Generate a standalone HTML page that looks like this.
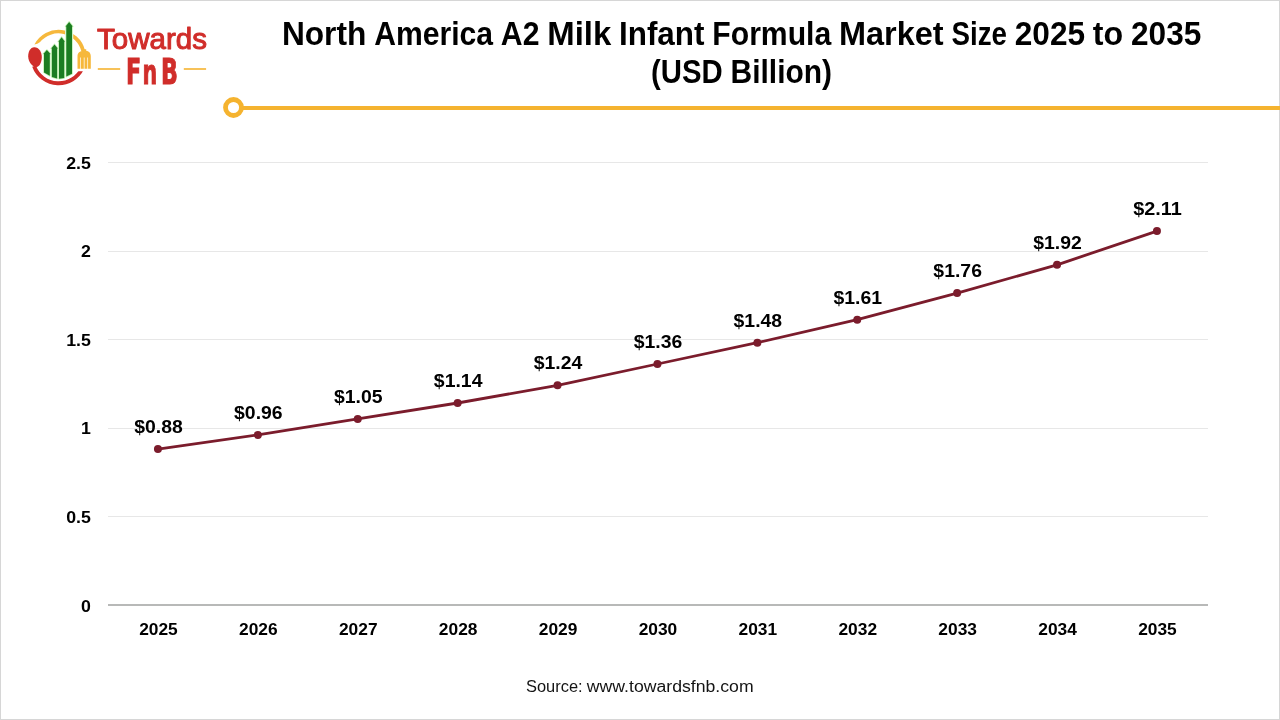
<!DOCTYPE html>
<html lang="en"><head><meta charset="utf-8"><title>North America A2 Milk Infant Formula Market Size 2025 to 2035</title>
<style>html,body{margin:0;padding:0;background:#fff;}body{width:1280px;height:720px;overflow:hidden;font-family:"Liberation Sans",sans-serif;}svg{display:block;}svg text{font-family:"Liberation Sans",sans-serif;}</style></head><body>
<svg width="1280" height="720" viewBox="0 0 1280 720">
<rect x="0" y="0" width="1280" height="720" fill="#ffffff"/>
<rect x="0.5" y="0.5" width="1279" height="719" fill="none" stroke="#d6d6d6" stroke-width="1"/>
<line x1="108" y1="516.5" x2="1208" y2="516.5" stroke="#e7e7e7" stroke-width="1"/>
<line x1="108" y1="428.5" x2="1208" y2="428.5" stroke="#e7e7e7" stroke-width="1"/>
<line x1="108" y1="339.5" x2="1208" y2="339.5" stroke="#e7e7e7" stroke-width="1"/>
<line x1="108" y1="251.5" x2="1208" y2="251.5" stroke="#e7e7e7" stroke-width="1"/>
<line x1="108" y1="162.5" x2="1208" y2="162.5" stroke="#e7e7e7" stroke-width="1"/>
<line x1="108" y1="605.0" x2="1208" y2="605.0" stroke="#b8b9b8" stroke-width="2"/>
<text x="90.9" y="611.5" text-anchor="end" font-size="17" font-weight="700" fill="#000" textLength="9.88" lengthAdjust="spacingAndGlyphs">0</text>
<text x="90.9" y="522.9" text-anchor="end" font-size="17" font-weight="700" fill="#000" textLength="24.69" lengthAdjust="spacingAndGlyphs">0.5</text>
<text x="90.9" y="434.3" text-anchor="end" font-size="17" font-weight="700" fill="#000" textLength="9.88" lengthAdjust="spacingAndGlyphs">1</text>
<text x="90.9" y="345.7" text-anchor="end" font-size="17" font-weight="700" fill="#000" textLength="24.69" lengthAdjust="spacingAndGlyphs">1.5</text>
<text x="90.9" y="257.1" text-anchor="end" font-size="17" font-weight="700" fill="#000" textLength="9.88" lengthAdjust="spacingAndGlyphs">2</text>
<text x="90.9" y="168.5" text-anchor="end" font-size="17" font-weight="700" fill="#000" textLength="24.69" lengthAdjust="spacingAndGlyphs">2.5</text>
<text x="158.45" y="635" text-anchor="middle" font-size="17" font-weight="700" fill="#000" textLength="38.6" lengthAdjust="spacingAndGlyphs">2025</text>
<text x="258.35" y="635" text-anchor="middle" font-size="17" font-weight="700" fill="#000" textLength="38.6" lengthAdjust="spacingAndGlyphs">2026</text>
<text x="358.25" y="635" text-anchor="middle" font-size="17" font-weight="700" fill="#000" textLength="38.6" lengthAdjust="spacingAndGlyphs">2027</text>
<text x="458.15" y="635" text-anchor="middle" font-size="17" font-weight="700" fill="#000" textLength="38.6" lengthAdjust="spacingAndGlyphs">2028</text>
<text x="558.05" y="635" text-anchor="middle" font-size="17" font-weight="700" fill="#000" textLength="38.6" lengthAdjust="spacingAndGlyphs">2029</text>
<text x="657.95" y="635" text-anchor="middle" font-size="17" font-weight="700" fill="#000" textLength="38.6" lengthAdjust="spacingAndGlyphs">2030</text>
<text x="757.85" y="635" text-anchor="middle" font-size="17" font-weight="700" fill="#000" textLength="38.6" lengthAdjust="spacingAndGlyphs">2031</text>
<text x="857.75" y="635" text-anchor="middle" font-size="17" font-weight="700" fill="#000" textLength="38.6" lengthAdjust="spacingAndGlyphs">2032</text>
<text x="957.65" y="635" text-anchor="middle" font-size="17" font-weight="700" fill="#000" textLength="38.6" lengthAdjust="spacingAndGlyphs">2033</text>
<text x="1057.55" y="635" text-anchor="middle" font-size="17" font-weight="700" fill="#000" textLength="38.6" lengthAdjust="spacingAndGlyphs">2034</text>
<text x="1157.45" y="635" text-anchor="middle" font-size="17" font-weight="700" fill="#000" textLength="38.6" lengthAdjust="spacingAndGlyphs">2035</text>
<polyline points="157.95,449.1 257.85,434.9 357.75,418.9 457.65,403.0 557.55,385.3 657.45,364.0 757.35,342.7 857.25,319.7 957.15,293.1 1057.05,264.8 1156.95,231.1" fill="none" stroke="#7b1c2c" stroke-width="2.8" stroke-linejoin="round" stroke-linecap="round"/>
<circle cx="157.95" cy="449.1" r="4" fill="#7b1c2c"/>
<circle cx="257.85" cy="434.9" r="4" fill="#7b1c2c"/>
<circle cx="357.75" cy="418.9" r="4" fill="#7b1c2c"/>
<circle cx="457.65" cy="403.0" r="4" fill="#7b1c2c"/>
<circle cx="557.55" cy="385.3" r="4" fill="#7b1c2c"/>
<circle cx="657.45" cy="364.0" r="4" fill="#7b1c2c"/>
<circle cx="757.35" cy="342.7" r="4" fill="#7b1c2c"/>
<circle cx="857.25" cy="319.7" r="4" fill="#7b1c2c"/>
<circle cx="957.15" cy="293.1" r="4" fill="#7b1c2c"/>
<circle cx="1057.05" cy="264.8" r="4" fill="#7b1c2c"/>
<circle cx="1156.95" cy="231.1" r="4" fill="#7b1c2c"/>
<text x="158.45" y="433.1" text-anchor="middle" font-size="17.5" font-weight="700" fill="#000" textLength="48.6" lengthAdjust="spacingAndGlyphs">$0.88</text>
<text x="258.35" y="418.9" text-anchor="middle" font-size="17.5" font-weight="700" fill="#000" textLength="48.6" lengthAdjust="spacingAndGlyphs">$0.96</text>
<text x="358.25" y="402.9" text-anchor="middle" font-size="17.5" font-weight="700" fill="#000" textLength="48.6" lengthAdjust="spacingAndGlyphs">$1.05</text>
<text x="458.15" y="387.0" text-anchor="middle" font-size="17.5" font-weight="700" fill="#000" textLength="48.6" lengthAdjust="spacingAndGlyphs">$1.14</text>
<text x="558.05" y="369.3" text-anchor="middle" font-size="17.5" font-weight="700" fill="#000" textLength="48.6" lengthAdjust="spacingAndGlyphs">$1.24</text>
<text x="657.95" y="348.0" text-anchor="middle" font-size="17.5" font-weight="700" fill="#000" textLength="48.6" lengthAdjust="spacingAndGlyphs">$1.36</text>
<text x="757.85" y="326.7" text-anchor="middle" font-size="17.5" font-weight="700" fill="#000" textLength="48.6" lengthAdjust="spacingAndGlyphs">$1.48</text>
<text x="857.75" y="303.7" text-anchor="middle" font-size="17.5" font-weight="700" fill="#000" textLength="48.6" lengthAdjust="spacingAndGlyphs">$1.61</text>
<text x="957.65" y="277.1" text-anchor="middle" font-size="17.5" font-weight="700" fill="#000" textLength="48.6" lengthAdjust="spacingAndGlyphs">$1.76</text>
<text x="1057.55" y="248.8" text-anchor="middle" font-size="17.5" font-weight="700" fill="#000" textLength="48.6" lengthAdjust="spacingAndGlyphs">$1.92</text>
<text x="1157.45" y="215.1" text-anchor="middle" font-size="17.5" font-weight="700" fill="#000" textLength="48.6" lengthAdjust="spacingAndGlyphs">$2.11</text>
<text y="45" font-size="32.4" font-weight="700" fill="#000" ><tspan x="281.92" textLength="84.39" lengthAdjust="spacingAndGlyphs">North</tspan> <tspan x="374.14" textLength="118.89" lengthAdjust="spacingAndGlyphs">America</tspan> <tspan x="500.84" textLength="38.59" lengthAdjust="spacingAndGlyphs">A2</tspan> <tspan x="547.25" textLength="63.97" lengthAdjust="spacingAndGlyphs">Milk</tspan> <tspan x="619.03" textLength="85.47" lengthAdjust="spacingAndGlyphs">Infant</tspan> <tspan x="712.33" textLength="118.86" lengthAdjust="spacingAndGlyphs">Formula</tspan> <tspan x="839.00" textLength="104.64" lengthAdjust="spacingAndGlyphs">Market</tspan> <tspan x="951.47" textLength="55.48" lengthAdjust="spacingAndGlyphs">Size</tspan> <tspan x="1014.76" textLength="70.28" lengthAdjust="spacingAndGlyphs">2025</tspan> <tspan x="1092.86" textLength="30.33" lengthAdjust="spacingAndGlyphs">to</tspan> <tspan x="1131.01" textLength="70.27" lengthAdjust="spacingAndGlyphs">2035</tspan></text>
<text y="82.6" font-size="32.4" font-weight="700" fill="#000" ><tspan x="651.11" textLength="71.66" lengthAdjust="spacingAndGlyphs">(USD</tspan> <tspan x="730.58" textLength="101.52" lengthAdjust="spacingAndGlyphs">Billion)</tspan></text>
<line x1="242" y1="108" x2="1280" y2="108" stroke="#f5b32f" stroke-width="4"/>
<circle cx="233.5" cy="107.5" r="8" fill="#fff" stroke="#f5b32f" stroke-width="4.8"/>
<text y="691.8" font-size="17.3" font-weight="400" fill="#141414" ><tspan x="526.00" textLength="56.61" lengthAdjust="spacingAndGlyphs">Source:</tspan> <tspan x="586.81" textLength="166.84" lengthAdjust="spacingAndGlyphs">www.towardsfnb.com</tspan></text>
<g id="logo">
<path d="M34.36,44.55 A27.2,27.2 0 0 1 85.05,50.55 L81.45,51.41 A23.8,23.8 0 0 0 40.10,41.92 Q37.43,44.18 34.36,44.55 Z" fill="#f6b83c"/>
<clipPath id="rc"><path d="M0,0 H72 V71.3 H100 V100 H0 Z"/></clipPath>
<path d="M34.07,66.13 A26.1,26.1 0 0 0 82.25,68.23" fill="none" stroke="#d02d2a" stroke-width="4" clip-path="url(#rc)"/>
<path d="M34.2,47.2 C38.6,47 41.9,51.6 41.8,57.2 C41.7,62.6 39.4,66.6 36.6,67 C33.2,67.4 28.4,63.2 28.2,56.6 C28.1,51.4 30.4,47.4 34.2,47.2 Z" fill="#d02d2a"/>
<path d="M44.0,72.4 L44.0,54.0 L43.3,54.0 L46.9,50.0 L50.5,54.0 L49.8,54.0 L49.8,75.7 Z" fill="#1c7d22" stroke="#c4f2b4" stroke-width="1.6" stroke-linejoin="round" paint-order="stroke"/>
<path d="M51.9,77.1 L51.9,48.4 L51.199999999999996,48.4 L54.5,44.4 L57.800000000000004,48.4 L57.1,48.4 L57.1,78.5 Z" fill="#1c7d22" stroke="#c4f2b4" stroke-width="1.6" stroke-linejoin="round" paint-order="stroke"/>
<path d="M59.0,78.75 L59.0,41.8 L58.3,41.8 L61.6,37.2 L64.9,41.8 L64.2,41.8 L64.2,78.0 Z" fill="#1c7d22" stroke="#c4f2b4" stroke-width="1.6" stroke-linejoin="round" paint-order="stroke"/>
<path d="M66.3,76.6 L66.3,26.6 L65.6,26.6 L69.15,21.9 L72.7,26.6 L72.0,26.6 L72.0,73.8 Z" fill="#fff" stroke="#fff" stroke-width="2.4" stroke-linejoin="round"/>
<path d="M66.3,76.6 L66.3,26.6 L65.6,26.6 L69.15,21.9 L72.7,26.6 L72.0,26.6 L72.0,73.8 Z" fill="#1c7d22" stroke="#c4f2b4" stroke-width="1.6" stroke-linejoin="round" paint-order="stroke"/>
<path d="M77.5,68.7 L77.5,56.2 C77.5,52.6 80,51.3 83.2,50.7 L83.4,49.2 L86.2,49.2 L86.2,50.7 C88.6,51.3 90.8,52.6 90.8,56.2 L90.8,68.7 L88.05,68.7 L88.05,57.6 L87.35,57.6 L87.35,68.7 L84.5,68.7 L84.5,57.6 L83.8,57.6 L83.8,68.7 L80.95,68.7 L80.95,57.6 L80.25,57.6 L80.25,68.7 Z" fill="#f6b83c"/>
<text x="97.0" y="48.9" font-size="29.2" fill="#d02d2a" stroke="#d02d2a" stroke-width="1.0" stroke-linejoin="round" textLength="110.0" lengthAdjust="spacingAndGlyphs">Towards</text>
<text transform="translate(0,84) scale(0.61,1)" x="206.5 233.7 263.9" y="0" stroke="#d02d2a" stroke-width="1.0" stroke-linejoin="miter" style="font-family:'DejaVu Sans','Liberation Sans',sans-serif;font-weight:700" font-size="36.35" fill="#d02d2a">F<tspan font-size="34">n</tspan>B</text>
<line x1="97.8" y1="69" x2="120.2" y2="69" stroke="#f6b83c" stroke-width="1.7"/>
<line x1="183.8" y1="69" x2="206.1" y2="69" stroke="#f6b83c" stroke-width="1.7"/>
</g>
</svg></body></html>
